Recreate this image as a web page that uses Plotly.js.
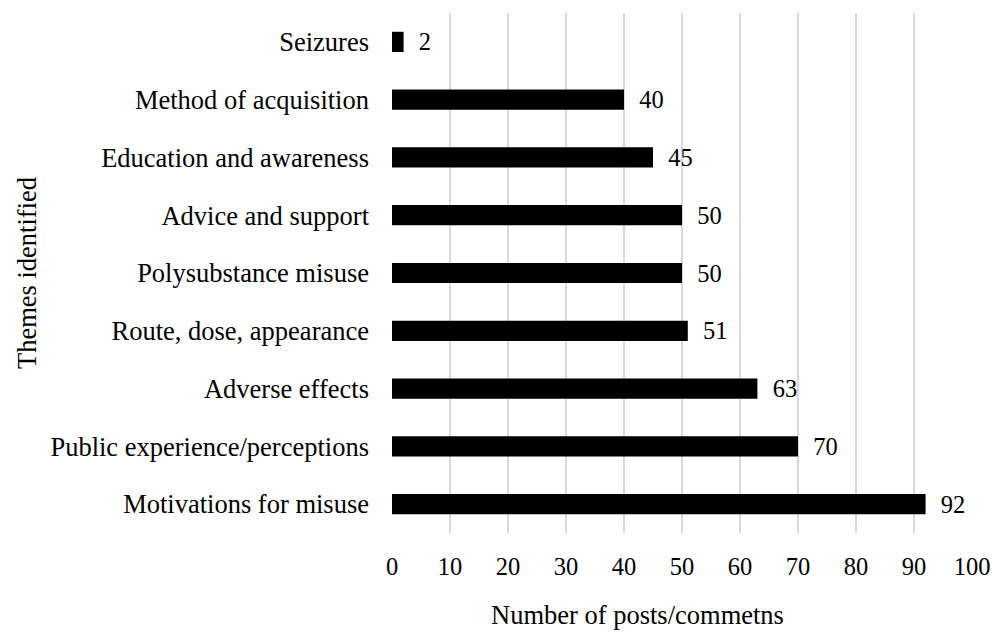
<!DOCTYPE html>
<html>
<head>
<meta charset="utf-8">
<script src="https://cdn.plot.ly/plotly-3.0.1.min.js"></script>
<style>html,body{margin:0;padding:0;background:#fff;}#chart{width:992px;height:633px;}</style>
</head>
<body>
<div id="chart"></div>
<script>
const categories = [
  "Motivations for misuse",
  "Public experience/perceptions",
  "Adverse effects",
  "Route, dose, appearance",
  "Polysubstance misuse",
  "Advice and support",
  "Education and awareness",
  "Method of acquisition",
  "Seizures"
];
const counts = [92, 70, 63, 51, 50, 50, 45, 40, 2];
const xTicks = [0, 10, 20, 30, 40, 50, 60, 70, 80, 90, 100];
const xTitle = "Number of posts/commetns";
const yTitle = "Themes identified";

const FONT = "Liberation Serif, Times New Roman, serif";
const FS = 26.5;
const NUM_FS = 24.5;

const trace = {
  type: "bar",
  orientation: "h",
  y: categories,
  x: counts,
  marker: {color: "#000000", line: {width: 0}},
  text: counts.map(v => "  " + v),
  textposition: "outside",
  constraintext: "none",
  cliponaxis: false,
  textfont: {family: FONT, size: NUM_FS, color: "#000"},
  hoverinfo: "none"
};

const layout = {
  width: 992,
  height: 633,
  margin: {l: 392, r: 20, t: 13, b: 100},
  paper_bgcolor: "#fff",
  plot_bgcolor: "#fff",
  bargap: 0.65,
  showlegend: false,
  font: {family: FONT, size: FS, color: "#000"},
  xaxis: {
    range: [0, 100],
    tickvals: xTicks,
    ticktext: xTicks.map(String),
    showgrid: true,
    gridcolor: "#d9d9d9",
    gridwidth: 2,
    zeroline: false,
    showline: false,
    ticks: "",
    ticklabelstandoff: 16,
    tickfont: {family: FONT, size: NUM_FS, color: "#000"},
    automargin: false
  },
  yaxis: {
    type: "category",
    showgrid: false,
    zeroline: false,
    showline: false,
    ticks: "",
    ticklabelstandoff: 22,
    tickfont: {family: FONT, size: FS, color: "#000"},
    automargin: false,
    title: {text: yTitle, font: {family: FONT, size: FS, color: "#000"}, standoff: 6}
  },
  annotations: [{
    text: xTitle,
    xref: "paper", yref: "paper",
    x: 0.424, y: -0.157,
    xanchor: "center", yanchor: "middle",
    borderpad: 0,
    showarrow: false,
    font: {family: FONT, size: FS, color: "#000"}
  }]
};

Plotly.newPlot("chart", [trace], layout, {displayModeBar: false, staticPlot: true});
</script>
</body>
</html>
